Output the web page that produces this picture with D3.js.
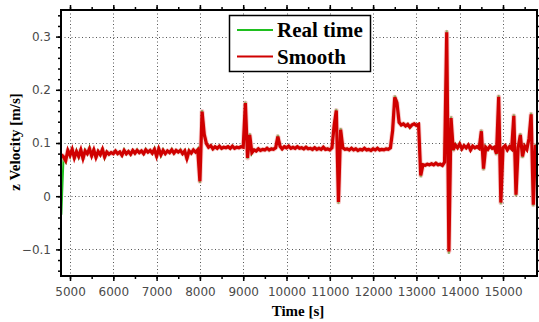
<!DOCTYPE html>
<html><head><meta charset="utf-8">
<script src="https://cdn.jsdelivr.net/npm/d3@7"></script>
<style>body{margin:0;background:#fff}svg{display:block}</style>
</head><body>
<script>
// sampling grid of the recorded signal
const sampleStart = 4800, sampleStep = 50;
// z velocity, real time [m/s]
const realTime = [
-0.035,0.072,0.064,0.088,0.075,0.091,0.070,0.086,0.073,0.090,
0.068,0.087,0.079,0.092,0.074,0.089,0.071,0.085,0.077,0.091,
0.072,0.084,0.078,0.083,0.080,0.086,0.079,0.084,0.076,0.088,
0.079,0.085,0.078,0.087,0.080,0.088,0.081,0.086,0.079,0.089,
0.082,0.087,0.080,0.090,0.072,0.091,0.076,0.088,0.079,0.086,
0.081,0.089,0.080,0.087,0.082,0.088,0.079,0.086,0.068,0.087,
0.080,0.088,0.082,0.089,0.025,0.162,0.118,0.100,0.092,0.096,
0.088,0.094,0.090,0.095,0.089,0.093,0.091,0.094,0.089,0.095,
0.090,0.093,0.091,0.094,0.092,0.178,0.070,0.118,0.080,0.088,
0.084,0.090,0.086,0.089,0.087,0.091,0.086,0.090,0.088,0.092,
0.115,0.095,0.088,0.094,0.091,0.095,0.090,0.093,0.089,0.094,
0.090,0.092,0.088,0.093,0.089,0.091,0.087,0.092,0.088,0.091,
0.087,0.093,0.088,0.090,0.086,0.092,0.135,0.164,-0.014,0.128,
0.092,0.087,0.090,0.086,0.091,0.087,0.090,0.085,0.089,0.086,
0.091,0.087,0.089,0.085,0.090,0.087,0.091,0.086,0.089,0.087,
0.090,0.088,0.092,0.125,0.189,0.178,0.140,0.133,0.137,0.131,
0.136,0.128,0.134,0.137,0.133,0.136,0.036,0.060,0.057,0.061,
0.058,0.062,0.059,0.063,0.058,0.061,0.057,0.065,0.312,-0.108,
0.150,0.085,0.098,0.090,0.100,0.088,0.096,0.090,0.097,0.086,
0.095,0.090,0.094,0.089,0.125,0.049,0.093,0.087,0.095,0.089,
0.093,0.078,0.190,-0.015,0.090,0.096,0.086,0.094,0.088,0.154,
0.000,0.092,0.118,0.072,0.095,0.087,0.110,0.157,-0.019,0.098,
0.085];
// z velocity, smoothed [m/s]
const smooth = [
0.078,0.074,0.067,0.086,0.077,0.088,0.072,0.084,0.075,0.087,
0.071,0.085,0.080,0.089,0.076,0.087,0.073,0.084,0.078,0.088,
0.074,0.083,0.079,0.082,0.080,0.085,0.080,0.083,0.077,0.086,
0.080,0.084,0.079,0.086,0.081,0.086,0.082,0.085,0.080,0.087,
0.083,0.086,0.081,0.088,0.075,0.089,0.078,0.086,0.080,0.085,
0.082,0.087,0.081,0.086,0.083,0.086,0.080,0.085,0.071,0.085,
0.081,0.087,0.083,0.087,0.028,0.159,0.116,0.099,0.092,0.095,
0.089,0.093,0.090,0.094,0.090,0.092,0.091,0.093,0.090,0.094,
0.090,0.092,0.091,0.093,0.092,0.175,0.072,0.115,0.082,0.087,
0.085,0.089,0.086,0.088,0.087,0.090,0.087,0.089,0.088,0.091,
0.112,0.094,0.089,0.093,0.091,0.094,0.090,0.092,0.090,0.093,
0.090,0.091,0.089,0.092,0.089,0.090,0.088,0.091,0.088,0.090,
0.088,0.092,0.088,0.089,0.087,0.091,0.133,0.161,-0.011,0.125,
0.091,0.088,0.089,0.087,0.090,0.087,0.089,0.086,0.088,0.087,
0.090,0.087,0.088,0.086,0.089,0.087,0.090,0.087,0.088,0.087,
0.089,0.088,0.091,0.123,0.186,0.176,0.139,0.134,0.136,0.132,
0.135,0.130,0.134,0.136,0.133,0.135,0.039,0.059,0.058,0.060,
0.059,0.061,0.059,0.062,0.059,0.060,0.058,0.064,0.308,-0.104,
0.147,0.087,0.096,0.091,0.098,0.089,0.095,0.091,0.096,0.087,
0.094,0.091,0.093,0.090,0.122,0.052,0.092,0.088,0.094,0.090,
0.092,0.080,0.187,-0.012,0.091,0.095,0.087,0.093,0.089,0.151,
0.003,0.091,0.115,0.075,0.094,0.088,0.108,0.154,-0.016,0.096,
0.086];
const xTicks = [5000,6000,7000,8000,9000,10000,11000,12000,13000,14000,15000];
const yTicks = [-0.1,0,0.1,0.2,0.3];
const seriesNames = ["Real time","Smooth"];
const seriesColors = ["#1fbf1f","#d00000"];

const W = 539, H = 322;
const L = 61, T = 10, R = 537, B = 276;
const svg = d3.select("body").append("svg").attr("width",W).attr("height",H);
const x = d3.scaleLinear().domain([4792,15785]).range([L,R]);
const y = d3.scaleLinear().domain([-0.15,0.35]).range([B,T]);
const times = realTime.map((_,i)=>sampleStart + i*sampleStep);

// grid
const grid = svg.append("g").attr("stroke","#555").attr("stroke-width",1).attr("stroke-dasharray","1,2.5");
grid.selectAll(".gx").data(xTicks).join("line")
  .attr("x1",d=>Math.round(x(d))+0.5).attr("x2",d=>Math.round(x(d))+0.5).attr("y1",T).attr("y2",B);
grid.selectAll(".gy").data(yTicks).join("line")
  .attr("y1",d=>Math.round(y(d))+0.5).attr("y2",d=>Math.round(y(d))+0.5).attr("x1",L).attr("x2",R);

// data
svg.append("clipPath").attr("id","clip").append("rect").attr("x",L).attr("y",T).attr("width",R-L).attr("height",B-T);
const line = d3.line().x((d,i)=>x(times[i])).y(d=>y(d));
const plot = svg.append("g").attr("clip-path","url(#clip)");
plot.append("path").datum(realTime).attr("d",line).attr("fill","none")
  .attr("stroke",seriesColors[0]).attr("stroke-width",2);
plot.append("path").datum(smooth).attr("d",line).attr("fill","none")
  .attr("stroke","#f0a0a0").attr("stroke-width",5).attr("stroke-linejoin","round").attr("opacity",0.55);
plot.append("path").datum(smooth).attr("d",line).attr("fill","none")
  .attr("stroke",seriesColors[1]).attr("stroke-width",3.2);

// axes with minor ticks, mirrored
const xMinor = d3.range(5000,15800,500);
const yMinor = d3.range(-14,35,2).map(v=>v/100);
const fontTick = "DejaVu Sans, sans-serif";
svg.append("g").attr("transform",`translate(0,${B})`)
  .call(d3.axisBottom(x).tickValues(xMinor).tickSize(3).tickFormat(""));
svg.append("g").attr("transform",`translate(0,${B})`)
  .call(d3.axisBottom(x).tickValues(xTicks).tickSize(5).tickPadding(6).tickFormat(d3.format("d")));
svg.append("g").attr("transform",`translate(0,${T})`)
  .call(d3.axisTop(x).tickValues(xMinor).tickSize(3).tickFormat(""));
svg.append("g").attr("transform",`translate(0,${T})`)
  .call(d3.axisTop(x).tickValues(xTicks).tickSize(5).tickFormat(""));
svg.append("g").attr("transform",`translate(${L},0)`)
  .call(d3.axisLeft(y).tickValues(yMinor).tickSize(3).tickFormat(""));
svg.append("g").attr("transform",`translate(${L},0)`)
  .call(d3.axisLeft(y).tickValues(yTicks).tickSize(5).tickPadding(5).tickFormat(d=>d===0?"0":d3.format(".1f")(d)));
svg.append("g").attr("transform",`translate(${R},0)`)
  .call(d3.axisRight(y).tickValues(yMinor).tickSize(3).tickFormat(""));
svg.append("g").attr("transform",`translate(${R},0)`)
  .call(d3.axisRight(y).tickValues(yTicks).tickSize(5).tickFormat(""));
svg.selectAll(".domain").remove();
svg.selectAll(".tick line").attr("stroke","#000").attr("stroke-width",1.5);
svg.selectAll(".tick text").attr("fill","#4a4a4a").style("font-family",fontTick).style("font-size","12px");

// frame
svg.append("rect").attr("x",L).attr("y",T).attr("width",R-L).attr("height",B-T)
  .attr("fill","none").attr("stroke","#000").attr("stroke-width",2);

// titles
const serif = "Liberation Serif, Times New Roman, serif";
svg.append("text").attr("x",298).attr("y",316).attr("text-anchor","middle")
  .style("font-family",serif).style("font-weight","bold").style("font-size","15px").text("Time [s]");
svg.append("text").attr("transform","translate(20,142) rotate(-90)").attr("text-anchor","middle")
  .style("font-family",serif).style("font-weight","bold").style("font-size","15px").text("z Velocity [m/s]");

// legend
const lg = svg.append("g");
lg.append("rect").attr("x",229.5).attr("y",15.5).attr("width",141).attr("height",56)
  .attr("fill","#fff").attr("stroke","#000").attr("stroke-width",1.5);
seriesNames.forEach((n,i)=>{
  const yy = 30 + i*26.5;
  lg.append("line").attr("x1",237).attr("x2",273).attr("y1",yy).attr("y2",yy)
    .attr("stroke",seriesColors[i]).attr("stroke-width",2);
  lg.append("text").attr("x",277).attr("y",yy+7).style("font-family",serif)
    .style("font-weight","bold").style("font-size","21px").attr("fill","#000").text(n);
});
</script>
</body></html>
